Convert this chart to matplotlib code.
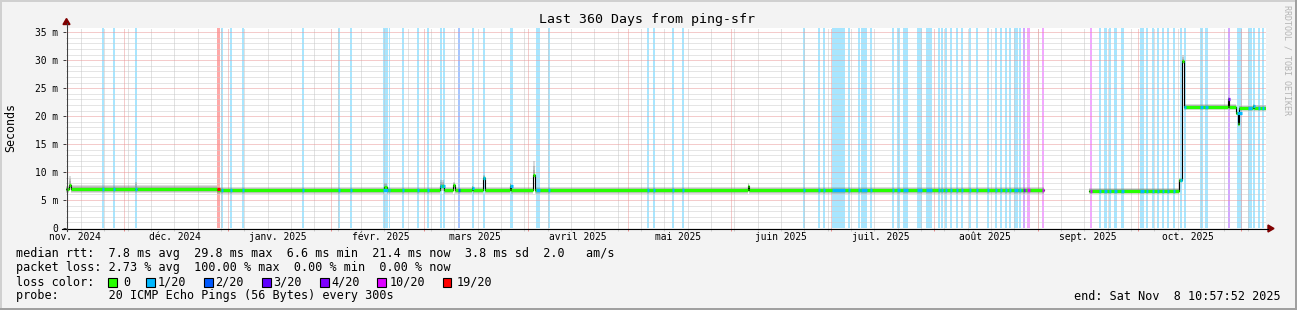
import numpy as np
import matplotlib
matplotlib.use("Agg")
import matplotlib.pyplot as plt
from matplotlib.patches import Rectangle, Polygon
from matplotlib.lines import Line2D
import matplotlib.transforms as mtransforms
from datetime import datetime, timedelta

plt.rcParams["lines.scale_dashes"] = False
MONO = "DejaVu Sans Mono"

# ---------------- data ----------------
start_time = datetime(2024, 11, 13, 10, 57, 52)
span_days = 360

title = "Last 360 Days from ping-sfr"
month_labels = ["nov. 2024", "déc. 2024", "janv. 2025", "févr. 2025", "mars 2025",
                "avril 2025", "mai 2025", "juin 2025", "juil. 2025", "août 2025",
                "sept. 2025", "oct. 2025"]

# median rtt (ms), step series: day offset from start -> value
med_day = [0.0, 1.0, 1.6, 20.8, 21.4, 45.4, 95.4, 96.2, 112.1, 113.4, 116.0, 116.6,
           121.7, 122.1, 125.0, 125.6, 133.1, 133.6, 140.1, 140.7, 204.5, 205.0,
           293.4, 306.9, 334.0, 334.7, 334.9, 335.5, 348.5, 349.0, 351.0, 351.5,
           351.9, 356.0, 356.4, 360.0]
med_ms = [6.95, 7.7, 7.0, 7.0, 7.0, 6.8, 7.3, 6.8, 7.5, 6.8, 7.7, 6.8,
          7.1, 6.8, 9.0, 6.8, 7.6, 6.8, 9.4, 6.8, 7.6, 6.8,
          np.nan, 6.7, 8.6, 10.7, 29.8, 21.6, 23.1, 21.6, 20.5, 18.6,
          21.4, 21.8, 21.5, 21.5]
# smoke spread above / below the median (ms)
smoke_up_ms = [0.65, 1.6, 0.65, 1.3, 0.65, 0.6, 0.7, 0.6, 1.0, 0.6, 0.6, 0.6,
               0.5, 0.6, 0.4, 0.6, 0.5, 0.6, 2.5, 0.6, 0.4, 0.55,
               np.nan, 0.5, 0.3, 0.3, 1.2, 0.5, 0.3, 0.5, 0.3, 0.3,
               0.5, 0.3, 0.5, 0.5]
smoke_dn_ms = [0.75, 0.8, 0.75, 0.75, 0.75, 0.7, 0.7, 0.7, 0.8, 0.7, 0.8, 0.7,
               0.5, 0.7, 0.3, 0.7, 0.7, 0.7, 0.4, 0.7, 0.6, 0.7,
               np.nan, 0.65, 0.4, 0.4, 0.4, 0.5, 0.5, 0.5, 0.3, 0.3,
               0.5, 0.3, 0.5, 0.5]

# packet-loss periods (day offsets) and loss level index
loss_start = [10.8, 14.1, 20.7, 45.2, 46.4, 49.1, 52.7, 70.7, 81.5, 85.2,
              95.1, 96.8, 100.7, 105.2, 108.3, 112.1, 113.0, 117.6, 121.7, 125.1,
              133.2, 140.9, 144.5, 174.2, 176.1, 181.7, 184.7, 221.1, 225.6, 227.0,
              229.8, 234.7, 237.6, 238.6, 241.2, 247.7, 249.2, 251.0, 255.4, 257.9,
              261.5, 262.5, 263.7, 265.1, 266.9, 268.4, 270.9, 273.0, 276.3, 278.7,
              280.1, 281.7, 282.9, 284.3, 285.9, 287.0, 288.3, 292.9, 307.1, 309.8,
              311.3, 313.0, 314.5, 316.4, 322.2, 323.9, 325.7, 327.3, 328.8, 330.3,
              332.0, 334.1, 335.5, 340.2, 341.7, 348.5, 351.3, 354.6, 356.1, 357.5,
              358.8]
loss_end = [11.4, 14.7, 21.3, 46.2, 47.1, 49.7, 53.3, 71.3, 82.1, 85.8,
            96.5, 97.2, 101.3, 105.8, 108.9, 112.7, 113.6, 118.2, 122.3, 125.7,
            134.1, 142.1, 145.1, 174.8, 176.7, 182.3, 185.3, 221.7, 226.2, 227.6,
            233.7, 235.3, 238.2, 240.4, 241.8, 248.3, 250.1, 252.5, 256.8, 259.8,
            262.1, 263.1, 264.3, 265.7, 267.5, 269.1, 271.5, 273.6, 276.9, 279.3,
            280.7, 282.3, 283.5, 285.6, 286.5, 287.6, 289.1, 293.5, 307.7, 310.4,
            312.3, 313.6, 315.3, 317.5, 323.4, 324.5, 326.3, 327.9, 329.4, 330.9,
            332.6, 334.7, 336.1, 341.1, 342.5, 349.1, 352.8, 355.8, 356.7, 358.1,
            359.4]
loss_level = [1, 1, 1, 6, 1, 1, 1, 1, 1, 1,
              1, 1, 1, 1, 1, 1, 1, 2, 1, 1,
              1, 1, 1, 1, 1, 1, 1, 1, 1, 1,
              1, 1, 1, 1, 1, 1, 1, 1, 1, 1,
              1, 1, 1, 1, 1, 1, 1, 1, 1, 1,
              1, 1, 1, 1, 1, 4, 5, 5, 5, 1,
              1, 1, 1, 1, 1, 1, 1, 1, 1, 1,
              1, 1, 1, 1, 1, 4, 1, 1, 1, 1,
              1]

loss_names = ["0", "1/20", "2/20", "3/20", "4/20", "10/20", "19/20"]
loss_colors = ["#26ff00", "#00b8ff", "#0059ff", "#5e00ff", "#7e00ff", "#dd00ff", "#ff0000"]

ytick_vals = [0, 5, 10, 15, 20, 25, 30, 35]
ytick_labels = ["0", "5 m", "10 m", "15 m", "20 m", "25 m", "30 m", "35 m"]
y_max = 35.77

legend_rtt = "median rtt:  7.8 ms avg  29.8 ms max  6.6 ms min  21.4 ms now  3.8 ms sd  2.0   am/s"
legend_loss = "packet loss: 2.73 % avg  100.00 % max  0.00 % min  0.00 % now"
legend_color = "loss color:"
legend_probe = "probe:       20 ICMP Echo Pings (56 Bytes) every 300s"
legend_end = "end: Sat Nov  8 10:57:52 2025"
watermark = "RRDTOOL / TOBI OETIKER"

# ---------------- figure ----------------
W, H = 1297, 310
fig = plt.figure(figsize=(W / 100, H / 100), dpi=100, facecolor="#f3f3f3")


def fx(x):
    return x / W


def fy(y):
    return 1 - y / H


L, R, T, B = 66, 1266, 28, 228
ax = fig.add_axes([fx(L), fy(B), (R - L) / W, (B - T) / H])
ax.set_xlim(0, span_days)
ax.set_ylim(0, y_max)
ax.set_facecolor("white")
for s in ax.spines.values():
    s.set_visible(False)


def day_of(dt):
    return (dt - start_time).total_seconds() / 86400.0


# month starts / mid-month label positions / weekly Mondays
month_starts = []
label_days = []
m = datetime(2024, 11, 1)
while m < start_time + timedelta(days=span_days):
    d0 = day_of(m)
    if 0 < d0 < span_days:
        month_starts.append(d0)
    label_days.append(day_of(m + timedelta(days=15)))
    m = datetime(m.year + (m.month // 12), m.month % 12 + 1, 1)
weeks = []
w = datetime(2024, 11, 18)
while w < start_time + timedelta(days=span_days):
    weeks.append(day_of(w))
    w += timedelta(days=7)

# loss bars
for s0, e0, lv in zip(loss_start, loss_end, loss_level):
    ax.axvspan(s0, e0, color=loss_colors[lv], alpha=0.34, lw=0, zorder=1)

# grid (1px dots)
dots = (0.72, 0.72)
gkw = dict(lw=0.72, dashes=dots, zorder=2)
for yv in range(1, 36):
    if yv % 5:
        ax.axhline(yv, color="#cdcdcd", **gkw)
for wd in weeks:
    ax.axvline(wd, color="#c6c6c6", **gkw)
for yv in ytick_vals[1:]:
    ax.axhline(yv, color="#ea9898", **gkw)
for md in month_starts:
    ax.axvline(md, color="#ea9898", **gkw)

# smoke (built per contiguous step interval)
md_ = np.array(med_day)
mv = np.array(med_ms, dtype=float)
up = np.array(smoke_up_ms, dtype=float)
dn = np.array(smoke_dn_ms, dtype=float)
runs = []
cur = None
for i in range(len(md_) - 1):
    if np.isnan(mv[i]):
        cur = None
        continue
    if cur is None:
        cur = ([], [], [], [])
        runs.append(cur)
    cur[0].extend([md_[i], md_[i + 1]])
    cur[1].extend([mv[i], mv[i]])
    cur[2].extend([up[i], up[i]])
    cur[3].extend([dn[i], dn[i]])
for f in (1.0, 0.7, 0.4):
    for xs, ys, us, ds in runs:
        xs, ys, us, ds = map(np.array, (xs, ys, us, ds))
        ax.fill_between(xs, ys - ds * f, ys + us * f, color="#7a7a7a", alpha=0.26,
                        lw=0, zorder=3)

# median: thin black step line, coloured segments on top
ax.step(md_, mv, where="post", color="#000000", lw=0.8, zorder=4)
segs_x0, segs_x1, segs_y = [], [], []
for i in range(len(md_) - 1):
    if not np.isnan(mv[i]):
        segs_x0.append(md_[i]); segs_x1.append(md_[i + 1]); segs_y.append(mv[i])
ax.hlines(segs_y, segs_x0, segs_x1, colors=loss_colors[0], lw=2.3, zorder=5,
          capstyle="butt")
for s0, e0, lv in zip(loss_start, loss_end, loss_level):
    idx = np.searchsorted(md_, s0, side="right") - 1
    v = mv[idx]
    if not np.isnan(v):
        ax.hlines(v, s0, e0, colors=loss_colors[lv], lw=2.3, zorder=6, capstyle="butt")

# ticks
ax.set_yticks(ytick_vals)
ax.set_yticklabels(ytick_labels, fontfamily=MONO, fontsize=6.9)
ax.tick_params(axis="y", length=2.2, width=0.72, color="#404040", pad=3.4)
ax.set_xticks(month_starts)
ax.set_xticklabels([])
ax.set_xticks(weeks, minor=True)
ax.tick_params(axis="x", which="major", length=2.2, width=0.72, color="#e88a8a")
ax.tick_params(axis="x", which="minor", length=2.2, width=0.72, color="#cccccc")
ax.tick_params(axis="y", which="minor", length=0)

blend = mtransforms.blended_transform_factory(ax.transData, fig.transFigure)
for d, lab in zip(label_days, month_labels):
    if 0 <= d <= span_days:
        ax.text(d, fy(237.5), lab, transform=blend, ha="center", va="center",
                fontfamily=MONO, fontsize=6.9, clip_on=False)

# axis lines and arrows
fig.add_artist(Line2D([fx(62), fx(1268)], [fy(228.5), fy(228.5)], color="#000000",
                      lw=0.8, transform=fig.transFigure))
fig.add_artist(Line2D([fx(66.5), fx(66.5)], [fy(231), fy(23)], color="#404040",
                      lw=0.8, transform=fig.transFigure))
fig.add_artist(Polygon([[fx(66.5), fy(18.5)], [fx(63), fy(24.5)], [fx(70), fy(24.5)]],
                       closed=True, color="#800000", transform=fig.transFigure))
fig.add_artist(Polygon([[fx(1274), fy(228.5)], [fx(1268), fy(225)], [fx(1268), fy(232)]],
                       closed=True, color="#800000", transform=fig.transFigure))

# texts
fig.text(fx(647), fy(19), title, ha="center", va="center", fontfamily=MONO, fontsize=9.5)
fig.text(fx(11), fy(128), "Seconds", rotation=90, ha="center", va="center",
         fontfamily=MONO, fontsize=8.4)
fig.text(fx(1287), fy(60), watermark, rotation=270, ha="center", va="center",
         fontfamily=MONO, fontsize=6.0, color="#b4b4b4")

lx = 16
fig.text(fx(lx), fy(254), legend_rtt, ha="left", va="center", fontfamily=MONO, fontsize=8.5)
fig.text(fx(lx), fy(268), legend_loss, ha="left", va="center", fontfamily=MONO, fontsize=8.5)
fig.text(fx(lx), fy(282), legend_color, ha="left", va="center", fontfamily=MONO, fontsize=8.5)
fig.text(fx(lx), fy(296), legend_probe, ha="left", va="center", fontfamily=MONO, fontsize=8.5)
fig.text(fx(1281), fy(296), legend_end, ha="right", va="center", fontfamily=MONO, fontsize=8.5)

box_x = [108, 145.5, 203.5, 261.5, 319.5, 377, 442.5]
text_x = [123, 157.5, 215.5, 273.5, 331.5, 389.5, 456.5]
for bx, tx_, col, name in zip(box_x, text_x, loss_colors, loss_names):
    fig.add_artist(Rectangle((fx(bx), fy(286.5)), 9 / W, 9 / H, facecolor=col,
                             edgecolor="#000000", lw=0.8, transform=fig.transFigure))
    fig.text(fx(tx_), fy(282), name, ha="left", va="center", fontfamily=MONO,
             fontsize=8.5)

# 3D frame
for (x0, y0, w_, h_, c) in [(0, 0, W, 2, "#d0d0d0"), (0, 0, 2, H, "#d0d0d0"),
                            (0, H - 2, W, 2, "#a0a0a0"), (W - 2, 0, 2, H, "#a0a0a0")]:
    fig.add_artist(Rectangle((fx(x0), fy(y0 + h_)), w_ / W, h_ / H, facecolor=c,
                             edgecolor="none", transform=fig.transFigure))

fig.savefig("out.png", dpi=100, facecolor=fig.get_facecolor())
